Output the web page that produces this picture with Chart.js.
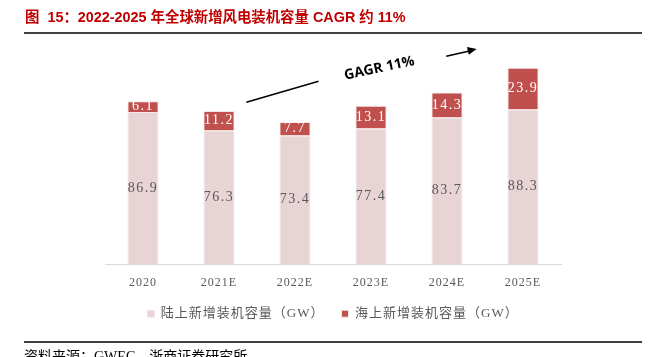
<!DOCTYPE html>
<html><head><meta charset="utf-8">
<script src="https://cdn.jsdelivr.net/npm/chart.js@4/dist/chart.umd.min.js"></script>
<style>
html,body{margin:0;padding:0;background:#fff;width:653px;height:357px;overflow:hidden;position:relative;}
#wrap{position:absolute;left:0;top:0;width:653px;height:357px;}
#title{position:absolute;left:25px;top:5px;font-family:"Liberation Sans","Noto Sans CJK SC",sans-serif;font-weight:bold;font-size:14.4px;color:#C00000;white-space:pre;}
.rule{position:absolute;left:24px;width:618px;height:2px;background:#404040;}
#source{position:absolute;left:24px;top:345px;font-family:"Liberation Serif","Noto Sans CJK SC",serif;font-size:14px;color:#000;white-space:nowrap;}
</style></head>
<body>
<div id="wrap"><canvas id="c" width="653" height="357"></canvas></div>
<div id="title">图  15：2022-2025 年全球新增风电装机容量 CAGR 约 11%</div>
<div class="rule" style="top:32px"></div>
<div class="rule" style="top:341px"></div>
<div id="source">资料来源：GWEC，浙商证券研究所</div>
<script>
const categories = ['2020','2021E','2022E','2023E','2024E','2025E'];
const onshore = [86.9, 76.3, 73.4, 77.4, 83.7, 88.3];
const offshore = [6.1, 11.2, 7.7, 13.1, 14.3, 23.9];
const seriesNames = ['陆上新增装机容量（GW）','海上新增装机容量（GW）'];
const annotationText = 'GAGR 11%';

const spacingPlugin = {
  id:'spacing',
  beforeDraw(chart){ chart.ctx.letterSpacing = '1px'; },
  beforeLayout(chart){ chart.ctx.letterSpacing = '1px'; }
};

const labelPlugin = {
  id:'barLabels',
  afterDatasetsDraw(chart){
    const ctx = chart.ctx;
    ctx.save();
    ctx.letterSpacing = '1.5px';
    ctx.font = '14px "Liberation Serif", serif';
    ctx.textAlign = 'center';
    ctx.textBaseline = 'middle';
    chart.data.datasets.forEach((ds, di) => {
      const meta = chart.getDatasetMeta(di);
      meta.data.forEach((bar, i) => {
        const v = ds.data[i];
        const yMid = (bar.y + bar.base) / 2;
        ctx.fillStyle = di === 0 ? '#595959' : '#ffffff';
        ctx.fillText(v.toFixed(1), bar.x, yMid);
      });
    });
    ctx.restore();
  }
};

const annoPlugin = {
  id:'anno',
  afterDraw(chart){
    const ctx = chart.ctx, xs = chart.scales.x, ys = chart.scales.y;
    const P = (a,b) => [xs.getPixelForValue(a), ys.getPixelForValue(b)];
    ctx.save();
    ctx.strokeStyle = '#000'; ctx.fillStyle = '#000'; ctx.lineWidth = 1.5;
    let [x1,y1] = P(1.36, 92.4), [x2,y2] = P(2.31, 104.4);
    ctx.beginPath(); ctx.moveTo(x1,y1); ctx.lineTo(x2,y2); ctx.stroke();
    let [a1,b1] = P(3.99, 118.7), [a2,b2] = P(4.34, 122.2);
    ctx.beginPath(); ctx.moveTo(a1,b1); ctx.lineTo(a2,b2); ctx.stroke();
    const ang = Math.atan2(b2-b1, a2-a1);
    const [tx,ty] = P(4.39, 122.9);
    ctx.beginPath();
    ctx.moveTo(tx,ty);
    ctx.lineTo(tx - 9*Math.cos(ang) + 4*Math.sin(ang), ty - 9*Math.sin(ang) - 4*Math.cos(ang));
    ctx.lineTo(tx - 9*Math.cos(ang) - 4*Math.sin(ang), ty - 9*Math.sin(ang) + 4*Math.cos(ang));
    ctx.closePath(); ctx.fill();
    const [cx,cy] = P(3.11, 111.8);
    ctx.translate(cx,cy); ctx.rotate(-12*Math.PI/180);
    ctx.letterSpacing = '0px';
    ctx.font = 'bold 14px "Open Sans", sans-serif';
    ctx.textAlign='center'; ctx.textBaseline='middle';
    ctx.fillText(annotationText, 0, 0);
    ctx.restore();
  }
};

new Chart(document.getElementById('c'), {
  type:'bar',
  data:{
    labels: categories,
    datasets:[
      {label: seriesNames[0], data: onshore, backgroundColor:'#E8D3D5', borderColor:'#F3E7E8', borderWidth:1, barPercentage:0.41, categoryPercentage:1},
      {label: seriesNames[1], data: offshore, backgroundColor:'#C0504D', borderColor:'#F3E7E8', borderWidth:1, barPercentage:0.41, categoryPercentage:1}
    ]
  },
  options:{
    responsive:false, animation:false, devicePixelRatio:1,
    layout:{padding:{top:40,left:105,right:92,bottom:26.8}},
    plugins:{
      legend:{position:'bottom', labels:{boxWidth:7, boxHeight:7, padding:17, color:'#595959', font:{size:13, family:'"Liberation Serif","Noto Sans CJK SC",serif'}}},
      tooltip:{enabled:false}
    },
    scales:{
      x:{stacked:true, grid:{display:false, drawTicks:true, tickLength:11.8}, border:{display:true,color:'#D9D9D9',width:1},
         ticks:{color:'#595959', padding:0, font:{size:12, family:'"Liberation Serif",serif'}}},
      y:{stacked:true, display:false, min:0, max:128}
    }
  },
  plugins:[spacingPlugin, labelPlugin, annoPlugin]
});
</script>
</body></html>
